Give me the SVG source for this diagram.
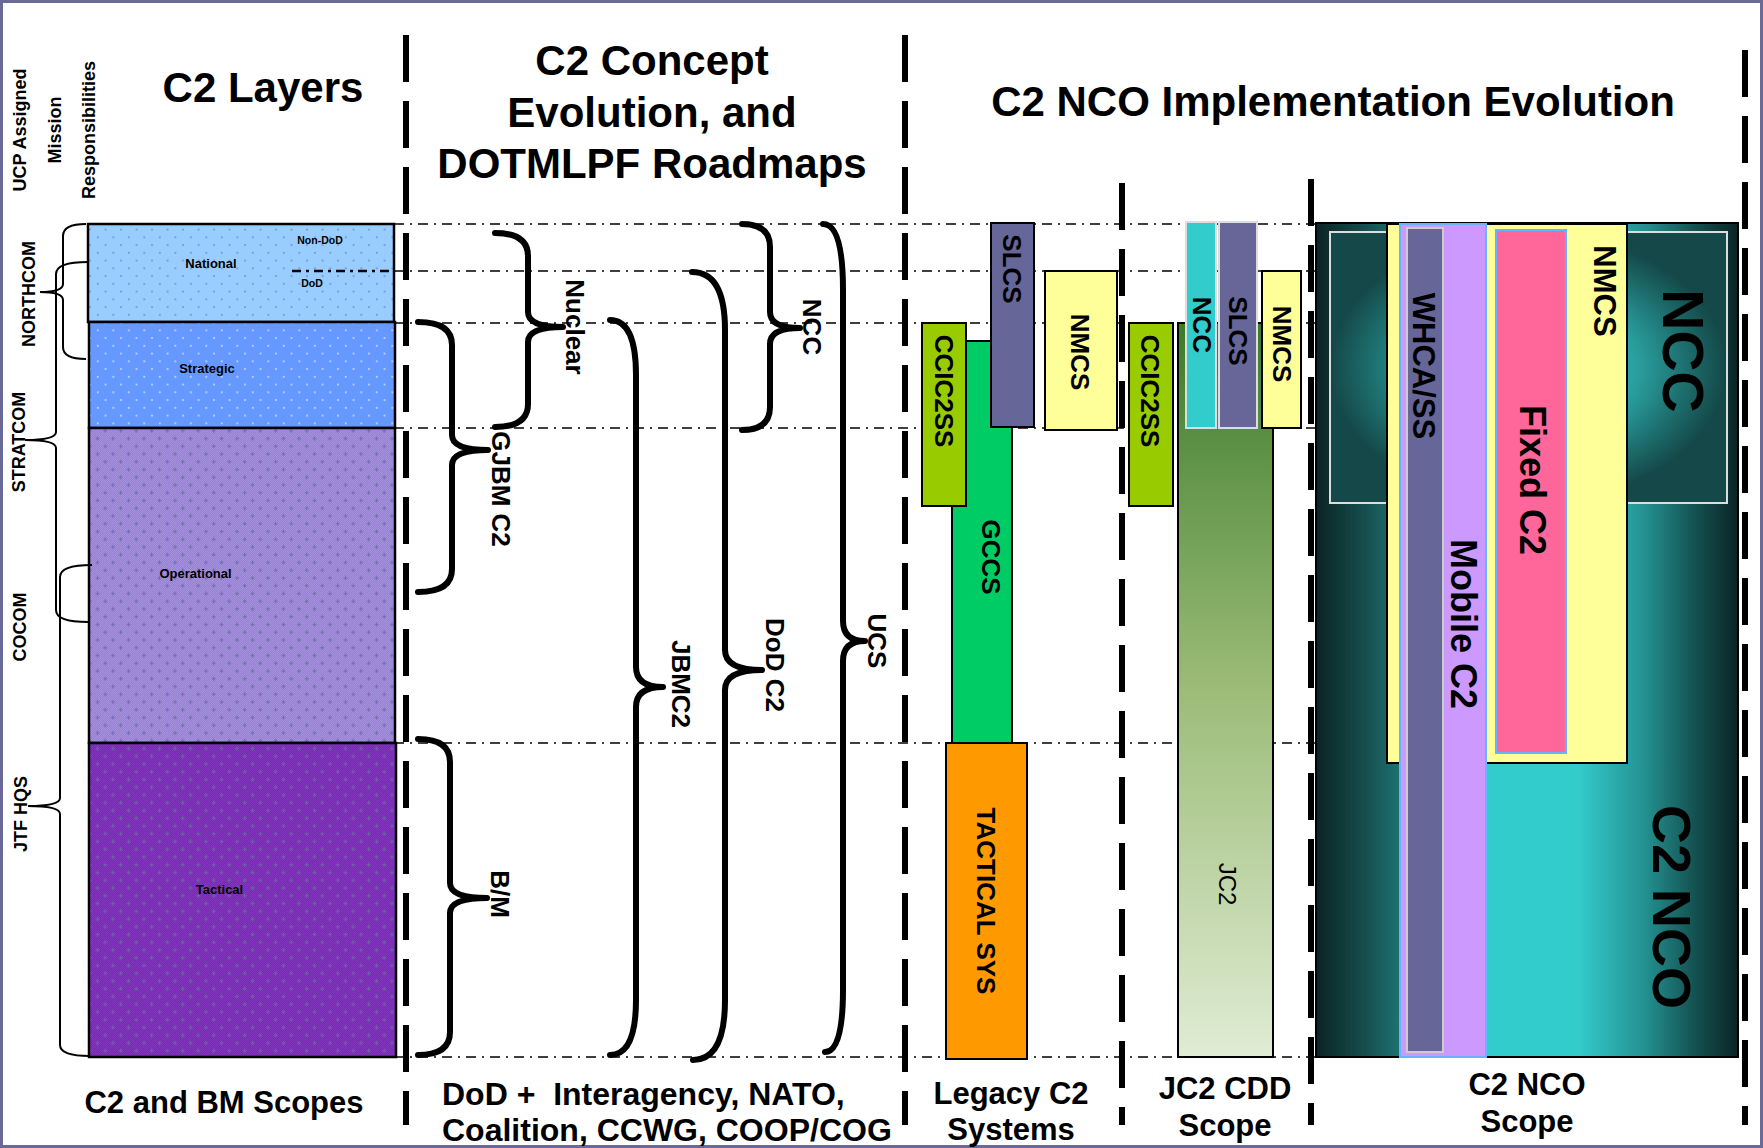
<svg xmlns="http://www.w3.org/2000/svg" width="1763" height="1148" viewBox="0 0 1763 1148">
<defs>
<style>
text { font-family: "Liberation Sans", Arial, sans-serif; font-weight: bold; fill: #000; }
.title { font-size: 42px; text-anchor: middle; }
.foot { font-size: 31px; text-anchor: middle; }
.vl { font-size: 18px; text-anchor: middle; dominant-baseline: central; }
.rl { font-size: 26px; text-anchor: middle; dominant-baseline: central; }
.lbl { font-size: 13px; text-anchor: middle; }
.sm { font-size: 10.5px; text-anchor: middle; }
.sep { stroke: #000; stroke-width: 6; stroke-dasharray: 47 19; fill: none; }
.guide { stroke: #000; stroke-width: 1.3; stroke-dasharray: 10 6 2 6; fill: none; }
.brace { stroke: #000; stroke-width: 6; fill: none; stroke-linecap: round; stroke-linejoin: round; }
.bracket { stroke: #000; stroke-width: 2; fill: none; }
.box { stroke: #000; stroke-width: 2; }
.layer { stroke: #000; stroke-width: 2.5; }
</style>
<pattern id="pNat" patternUnits="userSpaceOnUse" width="15.5" height="15.5">
  <rect width="15.5" height="15.5" fill="#99ccff"/>
  <rect x="4" y="4" width="1.6" height="1.6" fill="#7088c8"/>
  <rect x="11.75" y="11.75" width="1.6" height="1.6" fill="#7088c8"/>
</pattern>
<pattern id="pStr" patternUnits="userSpaceOnUse" width="15.5" height="15.5">
  <rect width="15.5" height="15.5" fill="#6699ff"/>
  <rect x="4" y="4" width="1.6" height="1.6" fill="#d5e0ff"/>
  <rect x="11.75" y="11.75" width="1.6" height="1.6" fill="#d5e0ff"/>
</pattern>
<pattern id="dOp" patternUnits="userSpaceOnUse" width="2" height="2">
  <rect width="2" height="2" fill="#9681d0"/>
  <rect width="1" height="1" fill="#a591de"/>
  <rect x="1" y="1" width="1" height="1" fill="#a591de"/>
</pattern>
<pattern id="dTac" patternUnits="userSpaceOnUse" width="2" height="2">
  <rect width="2" height="2" fill="#7629b0"/>
  <rect width="1" height="1" fill="#8238bd"/>
  <rect x="1" y="1" width="1" height="1" fill="#8238bd"/>
</pattern>
<pattern id="plusOp" patternUnits="userSpaceOnUse" width="15.5" height="15.5">
  <path d="M2.5 4.5h4M4.5 2.5v4M10.25 12.25h4M12.25 10.25v4" stroke="#6c6ca4" stroke-width="1"/>
</pattern>
<pattern id="plusTac" patternUnits="userSpaceOnUse" width="15.5" height="15.5">
  <path d="M2.5 4.5h4M4.5 2.5v4M10.25 12.25h4M12.25 10.25v4" stroke="#6a6a9c" stroke-width="1"/>
</pattern>
<linearGradient id="gJc2" x1="0" y1="0" x2="0" y2="1">
  <stop offset="0" stop-color="#3b7b2b"/>
  <stop offset="0.5" stop-color="#9cbc78"/>
  <stop offset="1" stop-color="#e0ecd4"/>
</linearGradient>
<linearGradient id="gNco" x1="0" y1="0" x2="1" y2="0">
  <stop offset="0" stop-color="#0b2424"/>
  <stop offset="0.12" stop-color="#164f4f"/>
  <stop offset="0.3" stop-color="#28a0a0"/>
  <stop offset="0.4" stop-color="#33cccc"/>
  <stop offset="0.62" stop-color="#33cccc"/>
  <stop offset="0.78" stop-color="#249090"/>
  <stop offset="0.9" stop-color="#145050"/>
  <stop offset="1" stop-color="#0b2424"/>
</linearGradient>
<radialGradient id="gNcc" cx="0.5" cy="0.5" r="0.5">
  <stop offset="0" stop-color="#33cccc"/>
  <stop offset="0.55" stop-color="#2a9e9e"/>
  <stop offset="0.8" stop-color="#1d6d6d"/>
  <stop offset="1" stop-color="#154848"/>
</radialGradient>
</defs>

<rect x="0" y="0" width="1763" height="1148" fill="#ffffff"/>
<rect x="1.5" y="1.5" width="1760" height="1145" fill="none" stroke="#6a6a99" stroke-width="3"/>

<!-- Titles -->
<g id="titles">
  <text class="title" x="263" y="102">C2 Layers</text>
  <text class="title" x="652" y="75">C2 Concept</text>
  <text class="title" x="652" y="127">Evolution, and</text>
  <text class="title" x="652" y="178">DOTMLPF Roadmaps</text>
  <text class="title" x="1333" y="116">C2 NCO Implementation Evolution</text>
  <text class="vl" transform="translate(19.5,130) rotate(-90)">UCP Assigned</text>
  <text class="vl" transform="translate(54.5,130) rotate(-90)">Mission</text>
  <text class="vl" transform="translate(88.5,130) rotate(-90)">Responsibilities</text>
</g>

<!-- Column separators -->
<g id="separators">
  <line class="sep" x1="406" y1="35" x2="406" y2="1125"/>
  <line class="sep" x1="905" y1="35" x2="905" y2="1125"/>
  <line class="sep" x1="1122" y1="183" x2="1122" y2="1125"/>
  <line class="sep" x1="1311" y1="179" x2="1311" y2="1125"/>
  <line class="sep" x1="1745" y1="50" x2="1745" y2="1125"/>
</g>

<!-- Layer guide lines -->
<g id="guides">
  <line class="guide" x1="394" y1="224" x2="1316" y2="224"/>
  <line class="guide" x1="394" y1="271" x2="1316" y2="271"/>
  <line class="guide" x1="394" y1="323" x2="1316" y2="323"/>
  <line class="guide" x1="394" y1="428" x2="1316" y2="428"/>
  <line class="guide" x1="394" y1="743" x2="1316" y2="743"/>
  <line class="guide" x1="394" y1="1057" x2="1316" y2="1057"/>
</g>

<!-- C2 layers -->
<g id="layer-national">
  <rect class="layer" x="88" y="224" width="306" height="98" fill="url(#pNat)"/>
  <line x1="292" y1="271" x2="394" y2="271" stroke="#000" stroke-width="2.5" stroke-dasharray="9 5 3 5"/>
  <text class="lbl" x="211" y="268">National</text>
  <text class="sm" x="320" y="244">Non-DoD</text>
  <text class="sm" x="312" y="287">DoD</text>
</g>
<g id="layer-strategic">
  <rect class="layer" x="89" y="322" width="306" height="106" fill="url(#pStr)"/>
  <text class="lbl" x="207" y="373">Strategic</text>
</g>
<g id="layer-operational">
  <rect x="89" y="428" width="306" height="315" fill="url(#dOp)"/>
  <rect class="layer" x="89" y="428" width="306" height="315" fill="url(#plusOp)"/>
  <text class="lbl" x="195.5" y="578">Operational</text>
</g>
<g id="layer-tactical">
  <rect x="89" y="743" width="307" height="314" fill="url(#dTac)"/>
  <rect class="layer" x="89" y="743" width="307" height="314" fill="url(#plusTac)"/>
  <text class="lbl" x="219.5" y="894">Tactical</text>
</g>

<!-- UCP labels -->
<g id="ucp-labels">
  <text class="vl" transform="translate(29,294) rotate(-90)">NORTHCOM</text>
  <text class="vl" transform="translate(19,442) rotate(-90)">STRATCOM</text>
  <text class="vl" transform="translate(20,627) rotate(-90)">COCOM</text>
  <text class="vl" transform="translate(20.5,814) rotate(-90)">JTF HQS</text>
</g>

<!-- Connectors: brackets and braces -->
<g id="connectors">
  <path class="bracket" d="M86,224 Q63,224 63,236 L63,284 Q63,292 40,292 Q63,292 63,300 L63,347 Q63,359 86,359"/>
  <path class="bracket" d="M88,262 Q56,262 56,274 L56,432 Q56,440 25,440 Q56,440 56,448 L56,610 Q56,622 88,622"/>
  <path class="bracket" d="M92,565 Q60,565 60,577 L60,798 Q60,806 28,806 Q60,806 60,814 L60,1045 Q60,1056 90,1056"/>

  <path class="brace" d="M495,233 Q528,233 528,256 L528,312 Q528,327 563,327 Q528,327 528,342 L528,404 Q528,427 495,427"/>
  <path class="brace" d="M418,322 Q452,322 452,345 L452,435 Q452,450 488,450 Q452,450 452,465 L452,569 Q452,592 418,592"/>
  <path class="brace" d="M418,739 Q450,739 450,762 L450,883 Q450,898 487,898 Q450,898 450,913 L450,1032 Q450,1055 418,1055"/>
  <path class="brace" d="M610,320 Q636,320 636,375 L636,667 Q636,687 663,687 Q636,687 636,707 L636,1000 Q636,1055 610,1055"/>
  <path class="brace" d="M692,272 Q725,272 725,330 L725,650 Q725,670 762,670 Q725,670 725,690 L725,1000 Q725,1060 693,1060"/>
  <path class="brace" d="M742,224 Q770,224 770,247 L770,312 Q770,328 800,328 Q770,328 770,344 L770,407 Q770,430 742,430"/>
  <path class="brace" d="M823,224 Q843,224 843,290 L843,621 Q843,641 865,641 Q843,641 843,661 L843,990 Q843,1052 825,1052"/>

  <text class="rl" transform="translate(575,327) rotate(90)">Nuclear</text>
  <text class="rl" transform="translate(501,489) rotate(90)">GJBM C2</text>
  <text class="rl" transform="translate(500,894) rotate(90)">B/M</text>
  <text class="rl" transform="translate(681,684) rotate(90)">JBMC2</text>
  <text class="rl" transform="translate(775,665) rotate(90)">DoD C2</text>
  <text class="rl" transform="translate(812,327) rotate(90)">NCC</text>
  <text class="rl" transform="translate(877,641) rotate(90)">UCS</text>
</g>

<!-- Legacy C2 systems -->
<g id="legacy-gccs">
  <rect class="box" x="952" y="341" width="60" height="402" fill="#00cc66"/>
  <text class="rl" transform="translate(991,557) rotate(90)">GCCS</text>
</g>
<g id="legacy-tactical">
  <rect class="box" x="946" y="743" width="81" height="316" fill="#ff9900"/>
  <text class="rl" transform="translate(986,901) rotate(90)">TACTICAL SYS</text>
</g>
<g id="legacy-ccic2ss">
  <rect class="box" x="922" y="323" width="44" height="183" fill="#99cc00"/>
  <text class="rl" transform="translate(944,391) rotate(90)">CCIC2SS</text>
</g>
<g id="legacy-slcs">
  <rect class="box" x="991" y="223" width="43" height="204" fill="#666699"/>
  <text class="rl" transform="translate(1012,269) rotate(90)">SLCS</text>
</g>
<g id="legacy-nmcs">
  <rect class="box" x="1045" y="271" width="72" height="159" fill="#ffff99"/>
  <text class="rl" transform="translate(1080,352) rotate(90)">NMCS</text>
</g>

<!-- JC2 CDD scope -->
<g id="jc2">
  <rect class="box" x="1178" y="323" width="95" height="734" fill="url(#gJc2)"/>
  <text class="rl" transform="translate(1227,884) rotate(90)" style="font-weight:normal;font-size:24px">JC2</text>
</g>
<g id="jc2-ccic2ss">
  <rect class="box" x="1129" y="323" width="44" height="183" fill="#99cc00"/>
  <text class="rl" transform="translate(1150,391) rotate(90)">CCIC2SS</text>
</g>
<g id="jc2-ncc">
  <rect x="1186" y="222" width="30" height="206" fill="#33cccc" stroke="#dddddd" stroke-width="2"/>
  <text class="rl" transform="translate(1202,325) rotate(90)">NCC</text>
</g>
<g id="jc2-slcs">
  <rect x="1219" y="222" width="38" height="206" fill="#666699" stroke="#dddddd" stroke-width="2"/>
  <text class="rl" transform="translate(1238,331) rotate(90)">SLCS</text>
</g>
<g id="jc2-nmcs">
  <rect class="box" x="1262" y="271" width="39" height="157" fill="#ffff99"/>
  <text class="rl" transform="translate(1282,344) rotate(90)">NMCS</text>
</g>

<!-- C2 NCO scope -->
<g id="nco-scope">
  <rect class="box" x="1316" y="223" width="422" height="834" fill="url(#gNco)"/>
  <text class="rl" transform="translate(1672,907) rotate(90)" style="font-size:54px">C2 NCO</text>
</g>
<g id="nco-ncc">
  <rect x="1330" y="232" width="397" height="271" fill="url(#gNcc)" stroke="#dddddd" stroke-width="2"/>
  <text class="rl" transform="translate(1683,351) rotate(90)" style="font-size:57px">NCC</text>
</g>
<g id="nco-nmcs">
  <rect class="box" x="1387" y="224" width="240" height="539" fill="#ffff99"/>
  <text class="rl" transform="translate(1604,291) rotate(90)" style="font-size:31px">NMCS</text>
</g>
<g id="nco-mobile">
  <rect x="1400" y="224" width="86" height="833" fill="#cc99ff" stroke="#66b3ff" stroke-width="2"/>
  <text class="rl" transform="translate(1463,624) rotate(90)" style="font-size:36px">Mobile C2</text>
</g>
<g id="nco-whcass">
  <rect x="1407" y="228" width="36" height="824" fill="#666699" stroke="#cccccc" stroke-width="2"/>
  <text class="rl" transform="translate(1423,366) rotate(90)" style="font-size:31px">WHCA/SS</text>
</g>
<g id="nco-fixed">
  <rect x="1496" y="230" width="70" height="523" fill="#ff6699" stroke="#66b3ff" stroke-width="2"/>
  <text class="rl" transform="translate(1532,480) rotate(90)" style="font-size:36px">Fixed C2</text>
</g>

<!-- Footers -->
<g id="footers">
  <text class="foot" x="224" y="1113">C2 and BM Scopes</text>
  <text x="442" y="1105" style="font-size:32px" xml:space="preserve">DoD +  Interagency, NATO,</text>
  <text x="442" y="1141" style="font-size:32px">Coalition, CCWG, COOP/COG</text>
  <text class="foot" x="1011" y="1104">Legacy C2</text>
  <text class="foot" x="1011" y="1140">Systems</text>
  <text class="foot" x="1225" y="1099">JC2 CDD</text>
  <text class="foot" x="1225" y="1136">Scope</text>
  <text class="foot" x="1527" y="1095">C2 NCO</text>
  <text class="foot" x="1527" y="1132">Scope</text>
</g>
</svg>
